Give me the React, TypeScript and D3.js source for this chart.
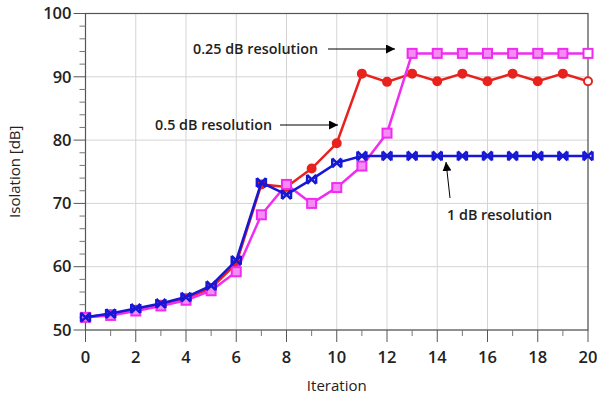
import React from "react";
import * as d3 from "d3";

const iterations = d3.range(0, 21);
const res05 = [52, 52.5, 53.2, 54, 55, 56.6, 60.5, 73, 72.6, 75.5, 79.5, 90.5, 89.2, 90.5, 89.3, 90.5, 89.3, 90.5, 89.3, 90.5, 89.3];
const res1 = [52, 52.6, 53.4, 54.2, 55.2, 57, 61, 73.3, 71.4, 73.8, 76.4, 77.5, 77.5, 77.5, 77.5, 77.5, 77.5, 77.5, 77.5, 77.5, 77.5];
const res025 = [52, 52.3, 53, 53.8, 54.7, 56.2, 59.2, 68.2, 73, 70, 72.5, 75.9, 81.1, 93.7, 93.7, 93.7, 93.7, 93.7, 93.7, 93.7, 93.7];
const xTicks = [0, 2, 4, 6, 8, 10, 12, 14, 16, 18, 20];
const yTicks = [50, 60, 70, 80, 90, 100];

const W = 597, H = 403;
const M = { left: 85.5, right: 588, top: 13.5, bottom: 330 };
const FONT = "'Open Sans', 'Liberation Sans', sans-serif";

export default function App() {
  const x = d3.scaleLinear().domain([0, 20]).range([M.left, M.right]);
  const y = d3.scaleLinear().domain([50, 100]).range([M.bottom, M.top]);
  const line = d3.line<number>().x((_, i) => x(iterations[i])).y((d) => y(d));

  const RED = "#e8221e", BLUE = "#1717d6", MAG = "#f02cf0";
  const minorX = d3.range(0, 21, 1).filter((v) => v % 2 !== 0);
  const minorY = d3.range(50, 101, 2).filter((v) => v % 10 !== 0);

  return (
    <svg width={W} height={H} style={{ position: "absolute", left: 0, top: 0, background: "#fff" }} fontFamily={FONT}>
      <defs>
        <marker id="arr" viewBox="0 0 10 10" refX="10" refY="5" markerWidth="9" markerHeight="9" markerUnits="userSpaceOnUse" orient="auto">
          <path d="M0,0 L10,5 L0,10 z" fill="#000" />
        </marker>
      </defs>
      {/* grid */}
      {xTicks.map((t) => (
        <line key={"gx" + t} x1={x(t)} x2={x(t)} y1={M.top} y2={M.bottom} stroke="#d4d4d4" strokeWidth={1} />
      ))}
      {yTicks.map((t) => (
        <line key={"gy" + t} x1={M.left} x2={M.right} y1={y(t)} y2={y(t)} stroke="#d4d4d4" strokeWidth={1} />
      ))}
      <rect x={M.left} y={M.top} width={M.right - M.left} height={M.bottom - M.top} fill="none" stroke="#555" strokeWidth={1.2} />
      {/* y ticks */}
      {yTicks.map((t) => (
        <g key={"ty" + t}>
          <line x1={M.left - 12} x2={M.left} y1={y(t)} y2={y(t)} stroke="#555" strokeWidth={1} />
          <text x={M.left - 14} y={y(t)} dy="0.35em" textAnchor="end" fontSize={16.5} fontWeight={600} fill="#222">{t}</text>
        </g>
      ))}
      {minorY.map((t) => (
        <line key={"my" + t} x1={M.left - 6} x2={M.left} y1={y(t)} y2={y(t)} stroke="#777" strokeWidth={1} />
      ))}
      {/* x ticks */}
      {xTicks.map((t) => (
        <g key={"tx" + t}>
          <line x1={x(t)} x2={x(t)} y1={M.bottom} y2={M.bottom + 12} stroke="#555" strokeWidth={1} />
          <text x={x(t)} y={M.bottom + 27} dy="0.35em" textAnchor="middle" fontSize={16.5} fontWeight={600} fill="#222">{t}</text>
        </g>
      ))}
      {minorX.map((t) => (
        <line key={"mx" + t} x1={x(t)} x2={x(t)} y1={M.bottom} y2={M.bottom + 6} stroke="#777" strokeWidth={1} />
      ))}
      {/* axis titles */}
      <text x={(M.left + M.right) / 2} y={391} textAnchor="middle" fontSize={15} fill="#222">Iteration</text>
      <text transform={`translate(20,${(M.top + M.bottom) / 2}) rotate(-90)`} textAnchor="middle" fontSize={15} fill="#222">Isolation [dB]</text>

      {/* series: 0.5 dB red */}
      <path d={line(res05) || ""} fill="none" stroke={RED} strokeWidth={2.5} />
      {res05.map((v, i) => (
        <circle key={"r" + i} cx={x(iterations[i])} cy={y(v)} r={4} fill={i === 20 ? "#fff" : RED} stroke={RED} strokeWidth={2} />
      ))}
      {/* 0.25 dB magenta */}
      <path d={line(res025) || ""} fill="none" stroke={MAG} strokeWidth={2.5} />
      {res025.map((v, i) => (
        <rect key={"m" + i} x={x(iterations[i]) - 4.5} y={y(v) - 4.5} width={9} height={9} fill={i === 20 ? "#fff" : "#f58cf5"} stroke={MAG} strokeWidth={2} />
      ))}
      {/* 1 dB blue */}
      <path d={line(res1) || ""} fill="none" stroke={BLUE} strokeWidth={2.5} />
      {res1.map((v, i) => {
        const cx = x(iterations[i]), cy = y(v), s = 4.5;
        return (
          <path key={"b" + i} d={`M${cx - s},${cy - s}L${cx + s},${cy + s}M${cx - s},${cy + s}L${cx + s},${cy - s}M${cx - s},${cy - s}L${cx - s},${cy + s}M${cx + s},${cy - s}L${cx + s},${cy + s}`} stroke={BLUE} strokeWidth={2.5} fill="none" />
        );
      })}

      {/* annotations */}
      <text x={193} y={49} dy="0.35em" fontSize={14.3} fontWeight={600} fill="#222" textLength={125}>0.25 dB resolution</text>
      <line x1={328} y1={49} x2={395} y2={49} stroke="#000" strokeWidth={1} markerEnd="url(#arr)" />
      <text x={155} y={125} dy="0.35em" fontSize={14.3} fontWeight={600} fill="#222" textLength={117}>0.5 dB resolution</text>
      <line x1={280} y1={125} x2={338} y2={125} stroke="#000" strokeWidth={1} markerEnd="url(#arr)" />
      <text x={447} y={215} dy="0.35em" fontSize={14.3} fontWeight={600} fill="#222" textLength={105}>1 dB resolution</text>
      <line x1={450} y1={198} x2={446} y2={162} stroke="#000" strokeWidth={1} markerEnd="url(#arr)" />
    </svg>
  );
}
